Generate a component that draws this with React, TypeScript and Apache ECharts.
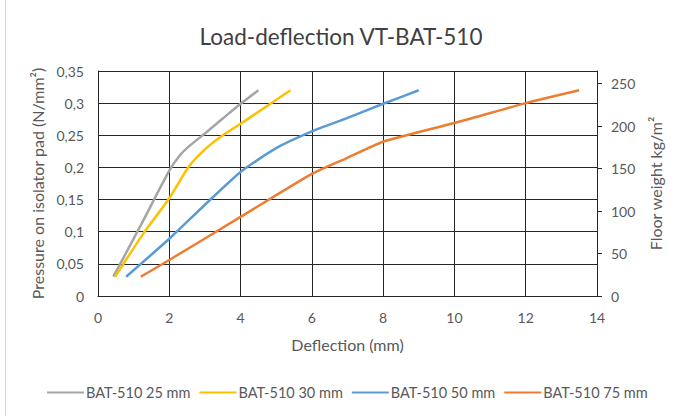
import React, { useEffect, useRef } from "react";
import * as echarts from "echarts";

const seriesNames = ["BAT-510 25 mm", "BAT-510 30 mm", "BAT-510 50 mm", "BAT-510 75 mm"];
const seriesColors = ["#A5A5A5", "#FFC000", "#5B9BD5", "#ED7D31"];

const deflection25 = [0.43, 1.2, 2.0, 2.3, 2.6, 3.05, 3.5, 4.0, 4.5];
const pressure25 = [0.03, 0.11, 0.195, 0.219, 0.235, 0.255, 0.276, 0.299, 0.32];

const deflection30 = [0.48, 1.27, 2.0, 2.53, 3.0, 3.5, 4.0, 4.7, 5.4];
const pressure30 = [0.03, 0.097, 0.152, 0.2, 0.228, 0.25, 0.268, 0.294, 0.32];

const deflection50 = [0.79, 2.0, 3.0, 4.0, 5.0, 6.0, 7.0, 8.0, 9.0];
const pressure50 = [0.03, 0.089, 0.142, 0.193, 0.23, 0.256, 0.277, 0.299, 0.32];

const deflection75 = [1.2, 2.0, 4.0, 6.0, 7.0, 8.0, 10.0, 12.0, 13.5];
const pressure75 = [0.03, 0.056, 0.123, 0.19, 0.215, 0.24, 0.269, 0.3, 0.32];

const floorWeightTicks = [0, 50, 100, 150, 200, 250];

const FONT = "Lato";

export default function App() {
  const ref = useRef<HTMLDivElement>(null);
  useEffect(() => {
    if (!ref.current) return;
    const chart = echarts.init(ref.current, undefined, { renderer: "svg" });
    const xs = [deflection25, deflection30, deflection50, deflection75];
    const ys = [pressure25, pressure30, pressure50, pressure75];
    const series = seriesNames.map((name, i) => ({
      name,
      type: "line",
      data: xs[i].map((x, k) => [x, ys[i][k]]),
      smooth: 0.2,
      symbol: "none",
      lineStyle: { color: seriesColors[i], width: 2.5 },
      itemStyle: { color: seriesColors[i] },
      xAxisIndex: 0,
      yAxisIndex: 0,
    }));
    chart.setOption({
      animation: false,
      backgroundColor: "#ffffff",
      textStyle: { fontFamily: FONT },
      title: {
        text: "Load-deflection VT-BAT-510",
        left: "center",
        top: 20,
        textStyle: { fontFamily: FONT, fontSize: 22.5, fontWeight: "normal", color: "#404040" },
      },
      grid: {
        left: 98,
        right: 85,
        top: 71,
        bottom: 120,
        containLabel: false,
        outerBoundsMode: "none",
      },
      legend: {
        top: 380,
        left: 42,
        itemWidth: 37,
        itemHeight: 14,
        itemGap: 9,
        icon: "path://M0,6 L37,6 L37,8 L0,8 Z",
        textStyle: { fontFamily: FONT, fontSize: 14.5, color: "#595959", padding: [0, 0, 0, -3] },
        data: seriesNames,
      },
      xAxis: {
        type: "value",
        min: 0,
        max: 14,
        interval: 2,
        name: "Deflection (mm)",
        nameLocation: "middle",
        nameGap: 40,
        nameTextStyle: { fontFamily: FONT, fontSize: 16, color: "#595959" },
        axisLine: { show: true, lineStyle: { color: "#262626", width: 1 } },
        axisTick: { show: false },
        axisLabel: { margin: 14, fontFamily: FONT, fontSize: 14, color: "#595959" },
        splitLine: { show: true, lineStyle: { color: "#262626", width: 1 } },
      },
      yAxis: [
        {
          type: "value",
          min: 0,
          max: 0.35,
          interval: 0.05,
          name: "Pressure on isolator pad (N/mm²)",
          nameLocation: "middle",
          nameRotate: 90,
          nameGap: 52,
          nameTextStyle: { fontFamily: FONT, fontSize: 16, color: "#595959" },
          axisLine: { show: true, lineStyle: { color: "#262626", width: 1 } },
          axisTick: { show: false },
          axisLabel: {
            margin: 14,
            fontFamily: FONT,
            fontSize: 14,
            color: "#595959",
            formatter: (v: number) => String(+v.toFixed(2)).replace(".", ","),
          },
          splitLine: { show: true, lineStyle: { color: "#262626", width: 1 } },
        },
        {
          type: "value",
          position: "right",
          min: 0,
          max: 265,
          name: "Floor weight kg/m²",
          nameLocation: "middle",
          nameRotate: 90,
          nameGap: 50,
          nameTextStyle: { fontFamily: FONT, fontSize: 16, color: "#595959" },
          axisLine: { show: true, lineStyle: { color: "#262626", width: 1 } },
          axisTick: {
            show: true,
            inside: false,
            length: 5,
            customValues: floorWeightTicks,
            lineStyle: { color: "#262626", width: 1 },
          },
          axisLabel: {
            margin: 14,
            fontFamily: FONT,
            fontSize: 14,
            color: "#595959",
            customValues: floorWeightTicks,
          },
          splitLine: { show: false },
        },
      ],
      graphic: [
        {
          type: "line",
          shape: { x1: 5.5, y1: 0, x2: 5.5, y2: 416 },
          style: { stroke: "#D9D9D9", lineWidth: 1 },
          silent: true,
        },
      ],
      series,
    });
    return () => chart.dispose();
  }, []);
  return (
    <div
      ref={ref}
      style={{ position: "fixed", left: 0, top: 0, width: 682, height: 416 }}
    />
  );
}
